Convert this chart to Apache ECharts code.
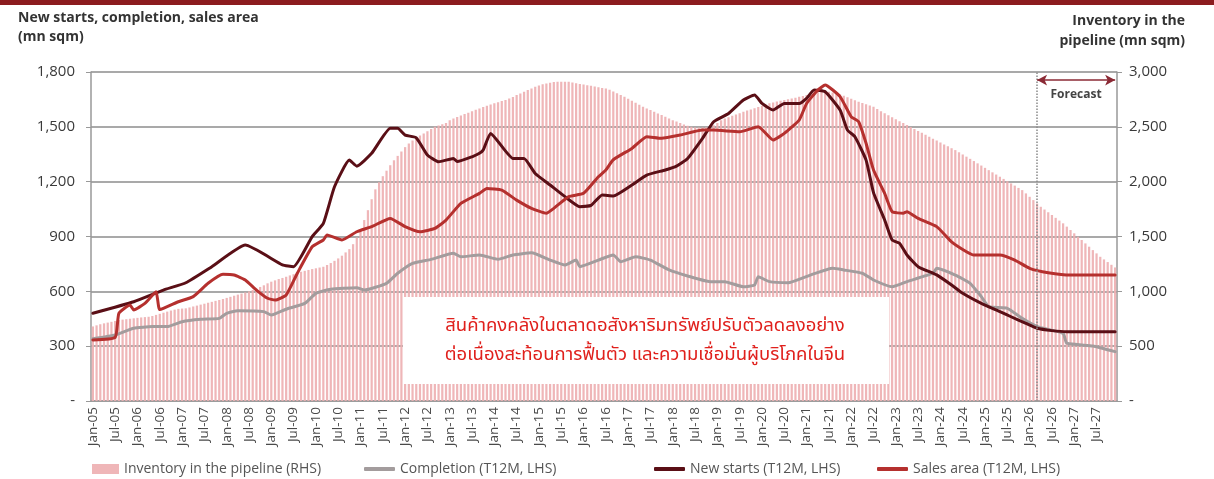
<!DOCTYPE html>
<html>
<head>
<meta charset="utf-8">
<script src="https://cdn.jsdelivr.net/npm/echarts@6/dist/echarts.min.js"></script>
<style>
html, body { margin: 0; padding: 0; background: #fff; }
#chart { width: 1214px; height: 479px; }
</style>
</head>
<body>
<div id="chart"></div>
<script>
// monthly categories Jan-05 .. Dec-27
const monthNames = ['Jan','Feb','Mar','Apr','May','Jun','Jul','Aug','Sep','Oct','Nov','Dec'];
const categories = [];
for (let y = 5; y <= 27; y++) {
  for (let m = 0; m < 12; m++) categories.push(monthNames[m] + '-' + String(y).padStart(2, '0'));
}

// inventory in the pipeline (RHS, mn sqm), one row per year 2005..2027
const inventory = [
  680, 690, 700, 708, 715, 722, 730, 738, 742, 746, 750, 754,
  758, 762, 765, 768, 775, 785, 795, 805, 815, 825, 833, 840,
  843, 845, 853, 862, 870, 879, 887, 896, 904, 913, 921, 930,
  940, 950, 960, 970, 980, 990, 1000, 1012, 1025, 1040, 1055, 1073,
  1088, 1100, 1112, 1122, 1133, 1145, 1156, 1168, 1179, 1187, 1195, 1203,
  1210, 1217, 1224, 1240, 1258, 1278, 1300, 1325, 1355, 1385, 1430, 1490,
  1560, 1650, 1740, 1840, 1930, 1995, 2050, 2100, 2150, 2195, 2235, 2275,
  2315, 2349, 2375, 2400, 2420, 2440, 2460, 2480, 2500, 2512, 2524, 2536,
  2560, 2577, 2590, 2603, 2616, 2629, 2642, 2655, 2668, 2680, 2692, 2703,
  2714, 2725, 2735, 2744, 2758, 2773, 2790, 2805, 2820, 2835, 2850, 2865,
  2878, 2888, 2896, 2903, 2908, 2911, 2912, 2912, 2910, 2905, 2898, 2890,
  2885, 2880, 2875, 2868, 2860, 2855, 2850, 2838, 2822, 2806, 2790, 2774,
  2756, 2738, 2720, 2701, 2683, 2668, 2653, 2638, 2622, 2607, 2592, 2577,
  2561, 2548, 2535, 2522, 2510, 2500, 2495, 2493, 2493, 2497, 2505, 2515,
  2535, 2561, 2575, 2588, 2600, 2612, 2625, 2637, 2648, 2659, 2670, 2681,
  2692, 2703, 2714, 2722, 2730, 2737, 2744, 2751, 2758, 2765, 2774, 2782,
  2790, 2800, 2810, 2818, 2822, 2823, 2820, 2814, 2805, 2795, 2783, 2770,
  2757, 2743, 2729, 2718, 2706, 2695, 2683, 2663, 2643, 2623, 2605, 2587,
  2570, 2552, 2534, 2516, 2498, 2480, 2462, 2445, 2427, 2409, 2392, 2375,
  2358, 2340, 2323, 2305, 2288, 2268, 2248, 2228, 2208, 2188, 2167, 2147,
  2126, 2105, 2085, 2065, 2045, 2025, 2004, 1984, 1964, 1943, 1923, 1893,
  1862, 1832, 1801, 1771, 1746, 1721, 1696, 1670, 1645, 1620, 1590, 1559,
  1529, 1498, 1468, 1437, 1407, 1376, 1346, 1315, 1291, 1267, 1242, 1218
];

// T12M series (LHS, mn sqm), read at turning points
const completion = [
  ['Jan-05', 340], ['Jul-05', 361], ['Dec-05', 398], ['May-06', 407], ['Sep-06', 407],
  ['Jan-07', 434], ['Jun-07', 447], ['Nov-07', 452], ['Jan-08', 480], ['Apr-08', 494],
  ['Nov-08', 489], ['Jan-09', 470], ['May-09', 502], ['Oct-09', 534], ['Jan-10', 589],
  ['May-10', 611], ['Dec-10', 620], ['Feb-11', 607], ['Aug-11', 644], ['Nov-11', 699],
  ['Mar-12', 753], ['Aug-12', 775], ['Feb-13', 808], ['Apr-13', 789], ['Sep-13', 799],
  ['Feb-14', 775], ['Jun-14', 799], ['Nov-14', 811], ['Apr-15', 771], ['Aug-15', 744],
  ['Nov-15', 771], ['Dec-15', 735], ['May-16', 771], ['Sep-16', 799], ['Nov-16', 762],
  ['Mar-17', 789], ['Jul-17', 771], ['Dec-17', 717], ['May-18', 684], ['Nov-18', 653],
  ['Mar-19', 653], ['Aug-19', 625], ['Nov-19', 635], ['Dec-19', 680], ['Mar-20', 653],
  ['Aug-20', 647], ['Feb-21', 689], ['Aug-21', 726], ['Nov-21', 717], ['Apr-22', 699],
  ['Jul-22', 662], ['Dec-22', 625], ['Apr-23', 653], ['Nov-23', 699], ['Dec-23', 726],
  ['May-24', 689], ['Sep-24', 644], ['Dec-24', 571], ['Feb-25', 516], ['Jul-25', 507],
  ['Nov-25', 452], ['Mar-26', 407], ['Oct-26', 370], ['Nov-26', 316], ['Jun-27', 301],
  ['Dec-27', 270]
];

const newStarts = [
  ['Jan-05', 480], ['Dec-05', 543], ['Aug-06', 607], ['Feb-07', 647], ['Sep-07', 735],
  ['Jun-08', 853], ['Apr-09', 745], ['Jul-09', 735], ['Dec-09', 899], ['Mar-10', 972],
  ['Jun-10', 1172], ['Oct-10', 1318], ['Dec-10', 1285], ['Apr-11', 1355], ['Sep-11', 1492],
  ['Nov-11', 1492], ['Jan-12', 1455], ['Apr-12', 1440], ['Jul-12', 1346], ['Oct-12', 1309],
  ['Feb-13', 1327], ['Mar-13', 1310], ['Jul-13', 1336], ['Sep-13', 1355], ['Oct-13', 1373],
  ['Dec-13', 1464], ['Jun-14', 1327], ['Sep-14', 1327], ['Dec-14', 1245], ['Apr-15', 1182],
  ['Aug-15', 1118], ['Dec-15', 1063], ['Mar-16', 1070], ['Jun-16', 1127], ['Sep-16', 1122],
  ['Feb-17', 1182], ['Jun-17', 1236], ['Nov-17', 1264], ['Feb-18', 1285], ['May-18', 1327],
  ['Sep-18', 1437], ['Dec-18', 1528], ['Apr-19', 1573], ['Aug-19', 1647], ['Nov-19', 1674],
  ['Jan-20', 1628], ['Apr-20', 1592], ['Jul-20', 1628], ['Nov-20', 1628], ['Jan-21', 1656],
  ['Mar-21', 1701], ['Jun-21', 1692], ['Oct-21', 1592], ['Dec-21', 1482], ['Feb-22', 1446],
  ['May-22', 1318], ['Jul-22', 1140], ['Oct-22', 990], ['Dec-22', 881], ['Feb-23', 863],
  ['Apr-23', 799], ['Jul-23', 735], ['Nov-23', 699], ['Dec-23', 690], ['Apr-24', 635],
  ['Jul-24', 589], ['Dec-24', 534], ['May-25', 489], ['Aug-25', 461], ['Dec-25', 425],
  ['Mar-26', 398], ['Jul-26', 385], ['Nov-26', 379], ['Dec-27', 379]
];

const salesArea = [
  ['Jan-05', 334], ['Jul-05', 348], ['Aug-05', 480], ['Nov-05', 525], ['Dec-05', 498],
  ['Mar-06', 534], ['Jun-06', 598], ['Jul-06', 500], ['Dec-06', 543], ['Apr-07', 571],
  ['Aug-07', 644], ['Dec-07', 693], ['Mar-08', 689], ['Jun-08', 662], ['Sep-08', 607],
  ['Dec-08', 562], ['Feb-09', 552], ['May-09', 580], ['Aug-09', 699], ['Dec-09', 844],
  ['Mar-10', 881], ['Apr-10', 908], ['Aug-10', 881], ['Dec-10', 926], ['Apr-11', 954],
  ['Sep-11', 999], ['Jan-12', 954], ['May-12', 926], ['Sep-12', 944], ['Dec-12', 990],
  ['Apr-13', 1081], ['Sep-13', 1136], ['Nov-13', 1163], ['Mar-14', 1154], ['Jul-14', 1099],
  ['Nov-14', 1054], ['Mar-15', 1027], ['May-15', 1054], ['Sep-15', 1118], ['Jan-16', 1136],
  ['May-16', 1227], ['Jul-16', 1264], ['Sep-16', 1320], ['Feb-17', 1382], ['Jun-17', 1446],
  ['Oct-17', 1437], ['Mar-18', 1455], ['Sep-18', 1482], ['Dec-18', 1482], ['Jul-19', 1473],
  ['Dec-19', 1501], ['Apr-20', 1428], ['Jul-20', 1464], ['Nov-20', 1537], ['Jan-21', 1628],
  ['Apr-21', 1701], ['Jun-21', 1729], ['Oct-21', 1665], ['Jan-22', 1555], ['Mar-22', 1528],
  ['May-22', 1410], ['Jul-22', 1264], ['Oct-22', 1136], ['Dec-22', 1036], ['Mar-23', 1027],
  ['Apr-23', 1036], ['Jul-23', 999], ['Dec-23', 954], ['Apr-24', 871], ['Aug-24', 817],
  ['Oct-24', 799], ['May-25', 799], ['Sep-25', 771], ['Jan-26', 726], ['Jun-26', 702],
  ['Dec-26', 689], ['Dec-27', 689]
];

const forecastStart = 'Mar-26';
const forecastEnd = 'Dec-27';
const noteLines = [
  'สินค้าคงคลังในตลาดอสังหาริมทรัพย์ปรับตัวลดลงอย่าง',
  'ต่อเนื่องสะท้อนการฟื้นตัว และความเชื่อมั่นผู้บริโภคในจีน'
];

const font = '"Open Sans", "Noto Sans", sans-serif';
const thaiFont = '"Noto Sans Thai", "Noto Sans", "DejaVu Sans", sans-serif';
const fmt = v => (v === 0 ? '-' : v.toLocaleString('en-US'));

const chart = echarts.init(document.getElementById('chart'));

chart.setOption({
  animation: false,
  textStyle: { fontFamily: font },
  title: {
    text: 'New starts, completion, sales area\n(mn sqm)',
    left: 13, top: 4,
    textStyle: { fontSize: 14, fontWeight: 'bold', color: '#333', lineHeight: 19, fontFamily: font }
  },
  grid: { left: 91, right: 97, top: 72, bottom: 78, containLabel: false },
  legend: [
    { left: 87, data: ['Inventory in the pipeline (RHS)'], icon: 'rect', itemWidth: 27, itemHeight: 10 },
    { left: 359, data: ['Completion (T12M, LHS)'], icon: 'roundRect', itemWidth: 31, itemHeight: 4 },
    { left: 649, data: ['New starts (T12M, LHS)'], icon: 'roundRect', itemWidth: 31, itemHeight: 4 },
    { left: 872, data: ['Sales area (T12M, LHS)'], icon: 'roundRect', itemWidth: 31, itemHeight: 4 }
  ].map(l => Object.assign(l, {
    top: 457,
    itemGap: 6,
    textStyle: { fontSize: 14, color: '#555', fontFamily: font }
  })),
  xAxis: {
    type: 'category',
    data: categories,
    boundaryGap: true,
    axisLine: { lineStyle: { color: '#999', width: 1.5 } },
    axisTick: { interval: 5, length: 5, lineStyle: { color: '#999' } },
    axisLabel: { interval: 5, rotate: 90, fontSize: 13.5, color: '#4a4a4a', margin: 6, fontFamily: font },
    splitLine: { show: false }
  },
  yAxis: [
    {
      type: 'value', min: 0, max: 1800, interval: 300,
      axisLine: { show: true, lineStyle: { color: '#999', width: 1.5 } },
      axisTick: { show: true, length: 5, lineStyle: { color: '#999' } },
      axisLabel: { formatter: fmt, fontSize: 15, color: '#3a3a3a', margin: 16 },
      splitLine: { lineStyle: { color: '#8c8c8c', width: 1.5 } }
    },
    {
      type: 'value', min: 0, max: 3000, interval: 500,
      axisLine: { show: true, lineStyle: { color: '#999', width: 1.5 } },
      axisTick: { show: true, length: 5, lineStyle: { color: '#999' } },
      axisLabel: { formatter: fmt, fontSize: 15, color: '#3a3a3a', margin: 12 },
      splitLine: { show: false }
    }
  ],
  series: [
    {
      name: 'Inventory in the pipeline (RHS)',
      type: 'bar',
      yAxisIndex: 1,
      data: inventory,
      barCategoryGap: '40%',
      itemStyle: { color: '#eeb0b2', opacity: 0.92 },
      silent: true
    },
    {
      name: 'Completion (T12M, LHS)',
      type: 'line',
      data: completion,
      showSymbol: false,
      smooth: 0.15,
      lineStyle: { color: '#a39c9d', width: 3, cap: 'round', join: 'round' },
      itemStyle: { color: '#a39c9d' },
      markLine: {
        silent: true,
        symbol: 'none',
        label: { show: false },
        lineStyle: { color: '#8a8a8a', type: 'dotted', width: 1.5 },
        data: [{ xAxis: forecastStart }]
      }
    },
    {
      name: 'New starts (T12M, LHS)',
      type: 'line',
      data: newStarts,
      showSymbol: false,
      smooth: 0.15,
      lineStyle: { color: '#5a0f16', width: 3, cap: 'round', join: 'round' },
      itemStyle: { color: '#5a0f16' },
      markLine: {
        silent: true,
        symbol: ['arrow', 'arrow'],
        symbolSize: [8, 10],
        lineStyle: { color: '#8b2a35', type: 'solid', width: 1.5 },
        label: {
          show: true, formatter: 'Forecast', position: 'insideMiddleBottom', distance: 9,
          fontSize: 12, fontWeight: 'bold', color: '#444', fontFamily: font
        },
        data: [[{ coord: [forecastStart, 1756] }, { coord: [forecastEnd, 1756] }]]
      }
    },
    {
      name: 'Sales area (T12M, LHS)',
      type: 'line',
      data: salesArea,
      showSymbol: false,
      smooth: 0.15,
      lineStyle: { color: '#b5302e', width: 3, cap: 'round', join: 'round' },
      itemStyle: { color: '#b5302e' }
    }
  ],
  graphic: [
    { type: 'rect', left: 0, top: 0, shape: { width: 1214, height: 5 }, style: { fill: '#8c1c1f' }, z: 100 },
    {
      type: 'text', x: 1185, y: 11, z: 100,
      style: {
        text: 'Inventory in the\npipeline (mn sqm)', align: 'right', verticalAlign: 'top',
        fill: '#333', font: 'bold 14px "Open Sans", "Noto Sans", sans-serif', lineHeight: 20
      }
    },
    { type: 'rect', left: 403, top: 297, shape: { width: 486, height: 87 }, style: { fill: '#fff' }, z: 100 },
    {
      type: 'text', x: 645, y: 327, z: 101,
      style: { text: noteLines[0], align: 'center', verticalAlign: 'middle', fill: '#e0201c', fontSize: 18.5, fontFamily: thaiFont }
    },
    {
      type: 'text', x: 645, y: 356, z: 101,
      style: { text: noteLines[1], align: 'center', verticalAlign: 'middle', fill: '#e0201c', fontSize: 18.5, fontFamily: thaiFont }
    }
  ]
});
</script>
</body>
</html>
